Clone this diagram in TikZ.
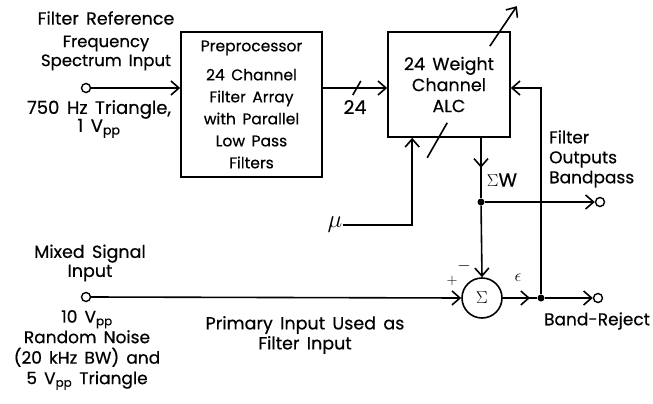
\documentclass[tikz,border=0pt]{standalone}
\usepackage{fontspec}
\setmainfont{Poppins}[FakeBold=0.5]
\usetikzlibrary{arrows.meta,calc}
\newcommand{\lsize}[2]{\fontsize{#1}{#2}\selectfont\spaceskip=0.42em plus 0.1em}
\tikzset{
  % --- lines -------------------------------------------------------------
  wire/.style  ={line width=1.6pt, draw=black},
  arrow/.style ={wire, -{Straight Barb[length=8pt,width=14pt]}},
  % --- nodes -------------------------------------------------------------
  box/.style   ={draw, line width=1.6pt, align=center, inner sep=0,
                 font=\lsize{15.5}{22}},
  term/.style  ={circle, draw, line width=1.4pt, minimum size=9pt, inner sep=0},
  jdot/.style  ={circle, fill=black, minimum size=7pt, inner sep=0},
  sumop/.style ={circle, draw, line width=1.6pt, minimum size=40pt, inner sep=0,
                 font=\fontsize{19}{19}\selectfont},
  lab/.style   ={font=\lsize{17}{20}, align=center, inner sep=0},
}
\begin{document}
\begin{tikzpicture}[x=1pt,y=-1pt]
  \useasboundingbox (0,0) rectangle (653,404);

  % ===================== reference input =====================
  \node[lab, font=\lsize{17.5}{20}] (reftitle) at (106,18) {Filter Reference};
  \node[lab, font=\lsize{16.5}{19}] (reflab) at (106,53) {Frequency\\Spectrum Input};
  \node[term] (refin) at (86,88) {};
  \node[lab, font=\lsize{18}{18}] (refval) at (99,119) {750 Hz Triangle,\\1 V\textsubscript{pp}};

  % ===================== blocks =====================
  \node[box, minimum width=141pt, minimum height=145pt] (pre) at (251.5,104.5)
    {Preprocessor\\[7pt]24 Channel\\Filter Array\\with Parallel\\Low Pass\\Filters};
  \node[box, minimum width=122pt, minimum height=105pt,
        font=\lsize{17.5}{21}] (alc) at (449,84.5)
    {24 Weight\\Channel\\ALC};
  \node[sumop] (sum) at (482,298) {$\Sigma$};

  % ===================== junctions + outputs =====================
  \node[jdot] (jw) at (481,202) {};
  \node[jdot] (je) at (541,298) {};
  \node[term] (bpout) at (600,202) {};
  \node[term] (brout) at (598,298) {};
  \coordinate (muin) at ($(alc.south west)+(25,0)$);

  % ===================== mixed input =====================
  \node[lab, font=\lsize{17.5}{19}] (mixlab) at (90,263) {Mixed Signal\\Input};
  \node[term] (mixin) at (86,297) {};
  \node[lab, font=\lsize{17}{20.5}] (mixval) at (87,350)
    {10 V\textsubscript{pp}\\Random Noise\\(20 kHz BW) and\\5 V\textsubscript{pp} Triangle};
  \node[lab, font=\lsize{17.5}{20}] (prim) at (305,335) {Primary Input Used as\\Filter Input};

  % ===================== labels =====================
  \node[lab, font=\lsize{19}{19}] (nch) at (355,107) {24};
  \node[lab, font=\fontsize{24}{24}\selectfont] (mu) at (335,225) {$\mu$};
  \node[lab, font=\lsize{19}{19}] (sw) at (502,180) {$\Sigma$W};
  \node[lab, align=left, anchor=west] (bplab) at (549,159) {Filter\\Outputs\\Bandpass};
  \node[lab] (brlab) at (597,321) {Band-Reject};
  \node[lab] (minus) at (464,266) {$-$};
  \node[lab, font=\fontsize{14}{14}\selectfont] (plus) at (452,281) {$+$};
  \node[lab, font=\fontsize{18}{18}\selectfont] (eps) at (518,278) {$\epsilon$};

  % ===================== edges =====================
  \draw[arrow] (refin.east) -- (refin -| pre.west);
  \draw[arrow] (refin -| pre.east) -- (refin -| alc.west);
  \draw[wire] ($(refin -| pre.east)+(30,7)$) -- ++(8,-14);
  \draw[arrow] (mu.east) -| (muin);
  \draw[wire] ($(alc.south west)+(40,20)$) -- ++(20,-35);
  \draw[arrow] ($(alc.north east)+(-21,15)$) -- ++(27,-40);
  % outputs
  \draw[wire] (alc.south -| jw) -- (jw);
  \draw[arrow] (alc.south -| jw) -- ++(0,30);
  \draw[arrow] (jw) -- (bpout.west);
  \draw[arrow] (jw) -- (sum.north);
  \draw[arrow] (mixin.east) -- (sum.west);
  \draw[wire] (sum.east) -- (je);
  \draw[arrow] (sum.east) -- ($(je)+(-11,0)$);
  \draw[arrow] (je) -- (brout.west);
  \draw[arrow] (je) |- (refin -| alc.east);

\end{tikzpicture}
\end{document}
